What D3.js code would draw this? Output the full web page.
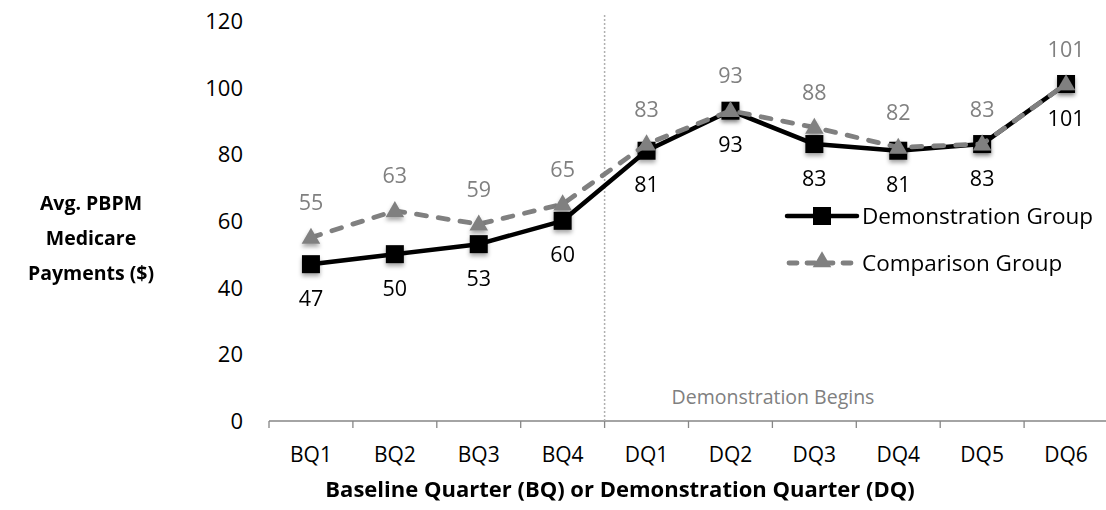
<!DOCTYPE html>
<html>
<head>
<meta charset="utf-8">
<script src="https://cdn.jsdelivr.net/npm/d3@7"></script>
<style>
  html, body { margin: 0; padding: 0; background: #fff; }
  svg { display: block; font-family: "Open Sans", sans-serif; }
</style>
</head>
<body>
<svg id="chart" width="1106" height="510"></svg>
<script>
// Quarters on the x axis
const quarters = ["BQ1", "BQ2", "BQ3", "BQ4", "DQ1", "DQ2", "DQ3", "DQ4", "DQ5", "DQ6"];
// Average PBPM Medicare payments ($)
const demonstrationGroup = [47, 50, 53, 60, 81, 93, 83, 81, 83, 101];
const comparisonGroup = [55, 63, 59, 65, 83, 93, 88, 82, 83, 101];
const yTicks = [0, 20, 40, 60, 80, 100, 120];
const seriesNames = ["Demonstration Group", "Comparison Group"];
const startQuarter = "DQ1";

const svg = d3.select("#chart");

const x = d3.scaleBand().domain(quarters).range([269, 1108]).paddingInner(0).paddingOuter(0);
const y = d3.scaleLinear().domain([0, 120]).range([421, 20.6]);
const cx = q => x(q) + x.bandwidth() / 2;

// Soft shadow under markers
const defs = svg.append("defs");
const f = defs.append("filter").attr("id", "shadow").attr("x", "-50%").attr("y", "-50%").attr("width", "200%").attr("height", "200%");
f.append("feDropShadow").attr("dx", 0).attr("dy", 3).attr("stdDeviation", 2).attr("flood-color", "#000").attr("flood-opacity", 0.35);

// Y axis tick labels (no axis line)
const yAxis = d3.axisLeft(y).tickValues(yTicks).tickSize(0).tickPadding(0);
const gy = svg.append("g").attr("transform", "translate(243,0)").call(yAxis);
gy.select(".domain").remove();
gy.selectAll("text").attr("font-size", 22).attr("fill", "#000").attr("font-family", "Open Sans").attr("dy", "0.35em");

// X axis
const xAxis = d3.axisBottom(x).tickSize(0).tickPadding(22);
const gx = svg.append("g").attr("transform", "translate(0,421)").call(xAxis);
gx.select(".domain").attr("stroke", "#868686").attr("stroke-width", 1.3).attr("d", "M269,0H1108");
gx.selectAll("text").attr("font-size", 21).attr("fill", "#000").attr("font-family", "Open Sans").attr("dy", "0.9em");
// Category boundary tick marks
const boundaries = quarters.map(q => x(q)).concat([x.range()[1]]);
gx.selectAll(".bound").data(boundaries).enter().append("line")
  .attr("x1", d => d).attr("x2", d => d).attr("y1", 0).attr("y2", 7)
  .attr("stroke", "#868686").attr("stroke-width", 1.3);

// Demonstration start marker
const xs = x(startQuarter);
svg.append("line").attr("x1", xs).attr("x2", xs).attr("y1", 15).attr("y2", 421)
  .attr("stroke", "#b0b0b0").attr("stroke-width", 1.5).attr("stroke-dasharray", "2,2");
svg.append("text").attr("x", 773).attr("y", 397).attr("text-anchor", "middle").attr("dy", "0.35em")
  .attr("font-size", 19.5).attr("fill", "#808080").text("Demonstration Begins");

// Lines
const line = d3.line().x((d, i) => cx(quarters[i])).y(d => y(d));

svg.append("path").datum(demonstrationGroup).attr("d", line)
  .attr("fill", "none").attr("stroke", "#000").attr("stroke-width", 4.5).attr("stroke-linejoin", "round");

// Demonstration markers (squares)
const sq = 18;
svg.append("g").attr("filter", "url(#shadow)").selectAll("rect").data(demonstrationGroup).enter().append("rect")
  .attr("x", (d, i) => cx(quarters[i]) - sq / 2).attr("y", d => y(d) - sq / 2)
  .attr("width", sq).attr("height", sq).attr("fill", "#000");

svg.append("path").datum(comparisonGroup).attr("d", line)
  .attr("fill", "none").attr("stroke", "#808080").attr("stroke-width", 4.8)
  .attr("stroke-dasharray", "10,12").attr("stroke-linecap", "round").attr("stroke-linejoin", "round");

// Comparison markers (triangles)
const tri = d3.symbol().type(d3.symbolTriangle).size(150);
svg.append("g").attr("filter", "url(#shadow)").selectAll("path").data(comparisonGroup).enter().append("path")
  .attr("d", tri).attr("transform", (d, i) => `translate(${cx(quarters[i])},${y(d) + 1})`)
  .attr("fill", "#808080");

// Data labels
svg.append("g").selectAll("text").data(demonstrationGroup).enter().append("text")
  .attr("x", (d, i) => cx(quarters[i])).attr("y", d => y(d) + 34).attr("dy", "0.35em")
  .attr("text-anchor", "middle").attr("font-size", 21.5).attr("fill", "#000").text(d => d);
svg.append("g").selectAll("text").data(comparisonGroup).enter().append("text")
  .attr("x", (d, i) => cx(quarters[i])).attr("y", d => y(d) - 35).attr("dy", "0.35em")
  .attr("text-anchor", "middle").attr("font-size", 21.5).attr("fill", "#808080").text(d => d);

// Legend
const leg = svg.append("g");
const legY = [216, 263];
leg.append("line").attr("x1", 787).attr("x2", 857).attr("y1", legY[0]).attr("y2", legY[0])
  .attr("stroke", "#000").attr("stroke-width", 4.5).attr("stroke-linecap", "round");
leg.append("rect").attr("x", 822 - sq / 2).attr("y", legY[0] - sq / 2).attr("width", sq).attr("height", sq).attr("fill", "#000");
leg.append("line").attr("x1", 789).attr("x2", 857).attr("y1", legY[1]).attr("y2", legY[1])
  .attr("stroke", "#808080").attr("stroke-width", 4.8).attr("stroke-linecap", "round").attr("stroke-dasharray", "8,10");
leg.append("path").attr("d", tri).attr("transform", `translate(822,${legY[1] - 1})`).attr("fill", "#808080");
leg.selectAll(".lt").data(seriesNames).enter().append("text")
  .attr("x", 862).attr("y", (d, i) => legY[i]).attr("dy", "0.35em")
  .attr("font-size", 22.5).attr("fill", "#000").text(d => d);

// Axis titles
svg.append("text").attr("x", 620).attr("y", 489).attr("text-anchor", "middle").attr("dy", "0.35em")
  .attr("font-size", 22).attr("font-weight", "bold").attr("fill", "#000")
  .text("Baseline Quarter (BQ) or Demonstration Quarter (DQ)");
const yTitle = ["Avg. PBPM", "Medicare", "Payments ($)"];
svg.append("g").selectAll("text").data(yTitle).enter().append("text")
  .attr("x", 91).attr("y", (d, i) => 203 + i * 35).attr("dy", "0.35em").attr("text-anchor", "middle")
  .attr("font-size", 19.5).attr("font-weight", "bold").attr("fill", "#000").text(d => d);
</script>
</body>
</html>
